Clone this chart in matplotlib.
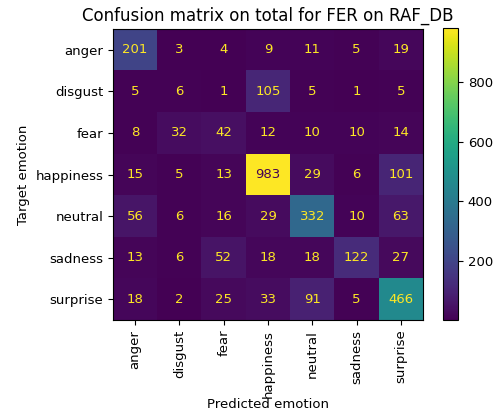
import numpy as np
import matplotlib.pyplot as plt

# === Labels ===
labels = ["anger", "disgust", "fear", "happiness", "neutral", "sadness", "surprise"]

# === Confusion matrix (rows = target, cols = predicted) ===
cm = np.array([
    [201, 3, 4, 9, 11, 5, 19],
    [5, 6, 1, 105, 5, 1, 5],
    [8, 32, 42, 12, 10, 10, 14],
    [15, 5, 13, 983, 29, 6, 101],
    [56, 6, 16, 29, 332, 10, 63],
    [13, 6, 52, 18, 18, 122, 27],
    [18, 2, 25, 33, 91, 5, 466],
])
cbar_ticks = [200, 400, 600, 800]

W, H = 497, 412
fig = plt.figure(figsize=(W / 100, H / 100), dpi=100)
ax = fig.add_axes([113 / W, 1 - 320 / H, 310 / W, 291 / H])
cax = fig.add_axes([443 / W, 1 - 320 / H, 15 / W, 292 / H])

cmap = plt.get_cmap("viridis")
im = ax.imshow(cm, cmap=cmap, aspect="auto")

thresh = (cm.max() + cm.min()) / 2
for i in range(cm.shape[0]):
    for j in range(cm.shape[1]):
        color = cmap(0.0) if cm[i, j] > thresh else cmap(1.0)
        ax.text(j, i, str(cm[i, j]), ha="center", va="center", color=color, fontsize=9.5)

ax.set_xticks(range(len(labels)))
ax.set_xticklabels(labels, rotation=90, fontsize=9.5)
ax.set_yticks(range(len(labels)))
ax.set_yticklabels(labels, fontsize=9.5)
ax.set_xlabel("Predicted emotion", fontsize=9.5, labelpad=0)
ax.set_ylabel("Target emotion", fontsize=9.5)
ax.set_title("Confusion matrix on total for FER on RAF_DB", fontsize=12)

cb = fig.colorbar(im, cax=cax)
cb.set_ticks(cbar_ticks)
cb.ax.tick_params(labelsize=9.5)

fig.savefig("out.png", dpi=100)
